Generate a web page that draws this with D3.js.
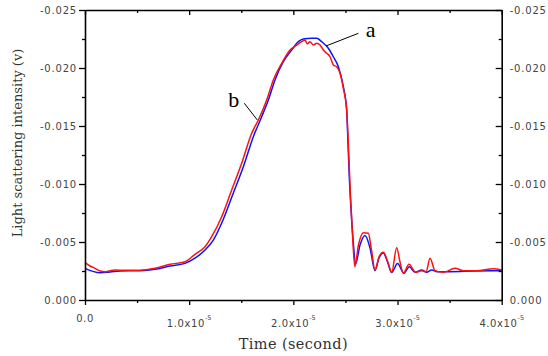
<!DOCTYPE html>
<html>
<head>
<meta charset="utf-8">
<script src="https://cdn.jsdelivr.net/npm/d3@7"></script>
<style>
  body { margin: 0; background: #fff; }
  svg { display: block; }
</style>
</head>
<body>
<svg id="chart" width="548" height="356"></svg>
<script>
// time in microseconds (10 us = 1.0x10^-5 s), intensity in volts
const timeA = [0, 1.44, 2.4, 3.36, 5.28, 6.72, 8.16, 9.6, 10.56, 11.52, 12.32, 13.25, 14.24, 15.2, 16.16, 16.96, 17.6, 18.24, 19.04, 19.84, 20.48, 20.96, 21.76, 22.24, 22.72, 23.36, 23.84, 24.32, 24.8, 25.12, 25.2, 25.37, 25.54, 25.76, 25.97, 26.4, 26.88, 27.36, 27.84, 28.22, 28.64, 29.04, 29.44, 30.0, 30.62, 31.13, 31.68, 32.32, 32.8, 33.28, 33.8, 35.04, 37.44, 40];
const valueA = [-0.00273, -0.00235, -0.00241, -0.0025, -0.00253, -0.00265, -0.00293, -0.00316, -0.0036, -0.00431, -0.00517, -0.0069, -0.00922, -0.01149, -0.01408, -0.0158, -0.01724, -0.01897, -0.02054, -0.02155, -0.02227, -0.0225, -0.02256, -0.02256, -0.02227, -0.0217, -0.02097, -0.02011, -0.01839, -0.01638, -0.01466, -0.01063, -0.00776, -0.00491, -0.0031, -0.00474, -0.00556, -0.00448, -0.00253, -0.00362, -0.00405, -0.00328, -0.00237, -0.00315, -0.0023, -0.00287, -0.00239, -0.00259, -0.00239, -0.00259, -0.00244, -0.00244, -0.0025, -0.00253];

const timeB = [0, 0.48, 0.96, 1.44, 1.92, 2.88, 3.84, 5.28, 6.72, 8.16, 9.6, 10.56, 11.52, 12.16, 13.12, 14.08, 15.04, 16.0, 16.64, 17.44, 18.08, 18.88, 19.68, 20.32, 20.8, 21.12, 21.34, 21.6, 21.92, 22.24, 22.56, 22.88, 23.2, 23.52, 23.84, 24.16, 24.48, 24.8, 25.12, 25.3, 25.48, 25.68, 25.9, 26.25, 26.72, 27.2, 27.5, 27.84, 28.22, 28.64, 29.04, 29.44, 29.92, 30.24, 30.56, 31.1, 31.75, 32.32, 32.74, 33.12, 33.6, 34.4, 35.52, 36.32, 37.6, 39.2, 40];
const valueB = [-0.00322, -0.00293, -0.00273, -0.0025, -0.00244, -0.00259, -0.00256, -0.00256, -0.00273, -0.00308, -0.0033, -0.00394, -0.00459, -0.00546, -0.00718, -0.00948, -0.01178, -0.01437, -0.01552, -0.01724, -0.01897, -0.0204, -0.02155, -0.02198, -0.02227, -0.02241, -0.02207, -0.02227, -0.02198, -0.02213, -0.02198, -0.02155, -0.02127, -0.02097, -0.02026, -0.02011, -0.01954, -0.01825, -0.01638, -0.01293, -0.00905, -0.0056, -0.00287, -0.00474, -0.0058, -0.00575, -0.00431, -0.00259, -0.00371, -0.00411, -0.00336, -0.00239, -0.00451, -0.00328, -0.0023, -0.00308, -0.00239, -0.00253, -0.00244, -0.00359, -0.00253, -0.00239, -0.00273, -0.00253, -0.00253, -0.0027, -0.00259];

const xMajor = [0, 10, 20, 30, 40];
const xMinor = [5, 15, 25, 35];
const xTickLabels = ['0.0', '1.0x10', '2.0x10', '3.0x10', '4.0x10'];
const xTickExp = ['', '-5', '-5', '-5', '-5'];
const yMajor = [0, -0.005, -0.01, -0.015, -0.02, -0.025];
const yMinor = [-0.0025, -0.0075, -0.0125, -0.0175, -0.0225];

// curve labels: text anchor and leader line ends, in data units
const labelNames = ['a', 'b'];
const labelPos = [[26.95, -0.02265], [13.76, -0.01666]];
const leaderFrom = [[26.24, -0.02299], [15.29, -0.01696]];
const leaderTo = [[23.14, -0.0219], [16.54, -0.01552]];

const svg = d3.select('#chart');
const plotLeft = 85, plotRight = 501.7, plotTop = 10, plotBottom = 300;

const x = d3.scaleLinear().domain([0, 40]).range([plotLeft, plotRight]);
const y = d3.scaleLinear().domain([0, -0.025]).range([plotBottom, plotTop]);

const tickFont = 'DejaVu Sans, sans-serif';
const tickColor = '#444';

// curves
const line = d3.line()
  .x(d => x(d[0]))
  .y(d => y(d[1]))
  .curve(d3.curveMonotoneX);

const seriesA = timeA.map((t, i) => [t, valueA[i]]);
const seriesB = timeB.map((t, i) => [t, valueB[i]]);

svg.append('path')
  .datum(seriesA)
  .attr('fill', 'none')
  .attr('stroke', '#0a14ff')
  .attr('stroke-width', 1.5)
  .attr('d', line);

svg.append('path')
  .datum(seriesB)
  .attr('fill', 'none')
  .attr('stroke', '#ff1010')
  .attr('stroke-width', 1.5)
  .attr('d', line);

// axes: left/bottom ticks outward, top/right inward
function styleAxis(g) {
  g.select('.domain').attr('stroke', '#000').attr('stroke-width', 1.6);
  g.selectAll('.tick line').attr('stroke', '#000').attr('stroke-width', 1.3);
}

const axes = [
  { gen: d3.axisBottom(x), at: `translate(0,${plotBottom})`, major: xMajor, minor: xMinor, size: 5 },
  { gen: d3.axisTop(x), at: `translate(0,${plotTop})`, major: xMajor, minor: xMinor, size: -5 },
  { gen: d3.axisLeft(y), at: `translate(${plotLeft},0)`, major: yMajor, minor: yMinor, size: 6 },
  { gen: d3.axisRight(y), at: `translate(${plotRight},0)`, major: yMajor, minor: yMinor, size: -6 }
];

axes.forEach(a => {
  const g1 = svg.append('g').attr('transform', a.at)
    .call(a.gen.tickValues(a.major).tickSizeInner(a.size).tickSizeOuter(0).tickFormat(''));
  styleAxis(g1);
  const g2 = svg.append('g').attr('transform', a.at)
    .call(a.gen.tickValues(a.minor).tickSizeInner(a.size > 0 ? 3 : -3).tickSizeOuter(0).tickFormat(''));
  styleAxis(g2);
  g2.select('.domain').remove();
});

// y tick labels on both sides
svg.append('g').selectAll('text')
  .data(yMajor)
  .join('text')
  .attr('x', plotLeft - 8)
  .attr('y', d => y(d) + 3.5)
  .attr('text-anchor', 'end')
  .style('font-family', tickFont)
  .style('font-size', '10px')
  .style('letter-spacing', '0.8px')
  .attr('fill', tickColor)
  .text(d => d.toFixed(3));

svg.append('g').selectAll('text')
  .data(yMajor)
  .join('text')
  .attr('x', plotRight + 8)
  .attr('y', d => y(d) + 3.5)
  .attr('text-anchor', 'start')
  .style('font-family', tickFont)
  .style('font-size', '10px')
  .style('letter-spacing', '0.8px')
  .attr('fill', tickColor)
  .text(d => d.toFixed(3));

// x tick labels with exponent
const xl = svg.append('g').selectAll('text')
  .data(xMajor)
  .join('text')
  .attr('x', d => x(d))
  .attr('y', (d, i) => xTickExp[i] ? 326.5 : 321.5)
  .attr('text-anchor', 'middle')
  .style('font-family', tickFont)
  .style('font-size', '10px')
  .style('letter-spacing', '0.6px')
  .attr('fill', tickColor);

xl.append('tspan').text((d, i) => xTickLabels[i]);
xl.append('tspan')
  .attr('dy', -7)
  .style('font-size', '6.5px')
  .style('letter-spacing', '0px')
  .text((d, i) => xTickExp[i]);

// axis titles
svg.append('text')
  .attr('x', (plotLeft + plotRight) / 2)
  .attr('y', 349)
  .attr('text-anchor', 'middle')
  .style('font-family', 'DejaVu Serif, serif')
  .style('font-size', '14.5px')
  .style('letter-spacing', '0.4px')
  .attr('fill', '#333')
  .text('Time (second)');

svg.append('text')
  .attr('transform', `translate(22,${143}) rotate(-90)`)
  .attr('text-anchor', 'middle')
  .style('font-family', 'DejaVu Serif, serif')
  .style('font-size', '13px')
  .attr('fill', '#333')
  .text('Light scattering intensity (v)');

// curve labels
labelNames.forEach((name, i) => {
  svg.append('line')
    .attr('x1', x(leaderFrom[i][0])).attr('y1', y(leaderFrom[i][1]))
    .attr('x2', x(leaderTo[i][0])).attr('y2', y(leaderTo[i][1]))
    .attr('stroke', '#000')
    .attr('stroke-width', 1);
  svg.append('text')
    .attr('x', x(labelPos[i][0]))
    .attr('y', y(labelPos[i][1]))
    .style('font-family', 'Liberation Serif, serif')
    .style('font-size', '22px')
    .attr('fill', '#000')
    .text(name);
});
</script>
</body>
</html>
